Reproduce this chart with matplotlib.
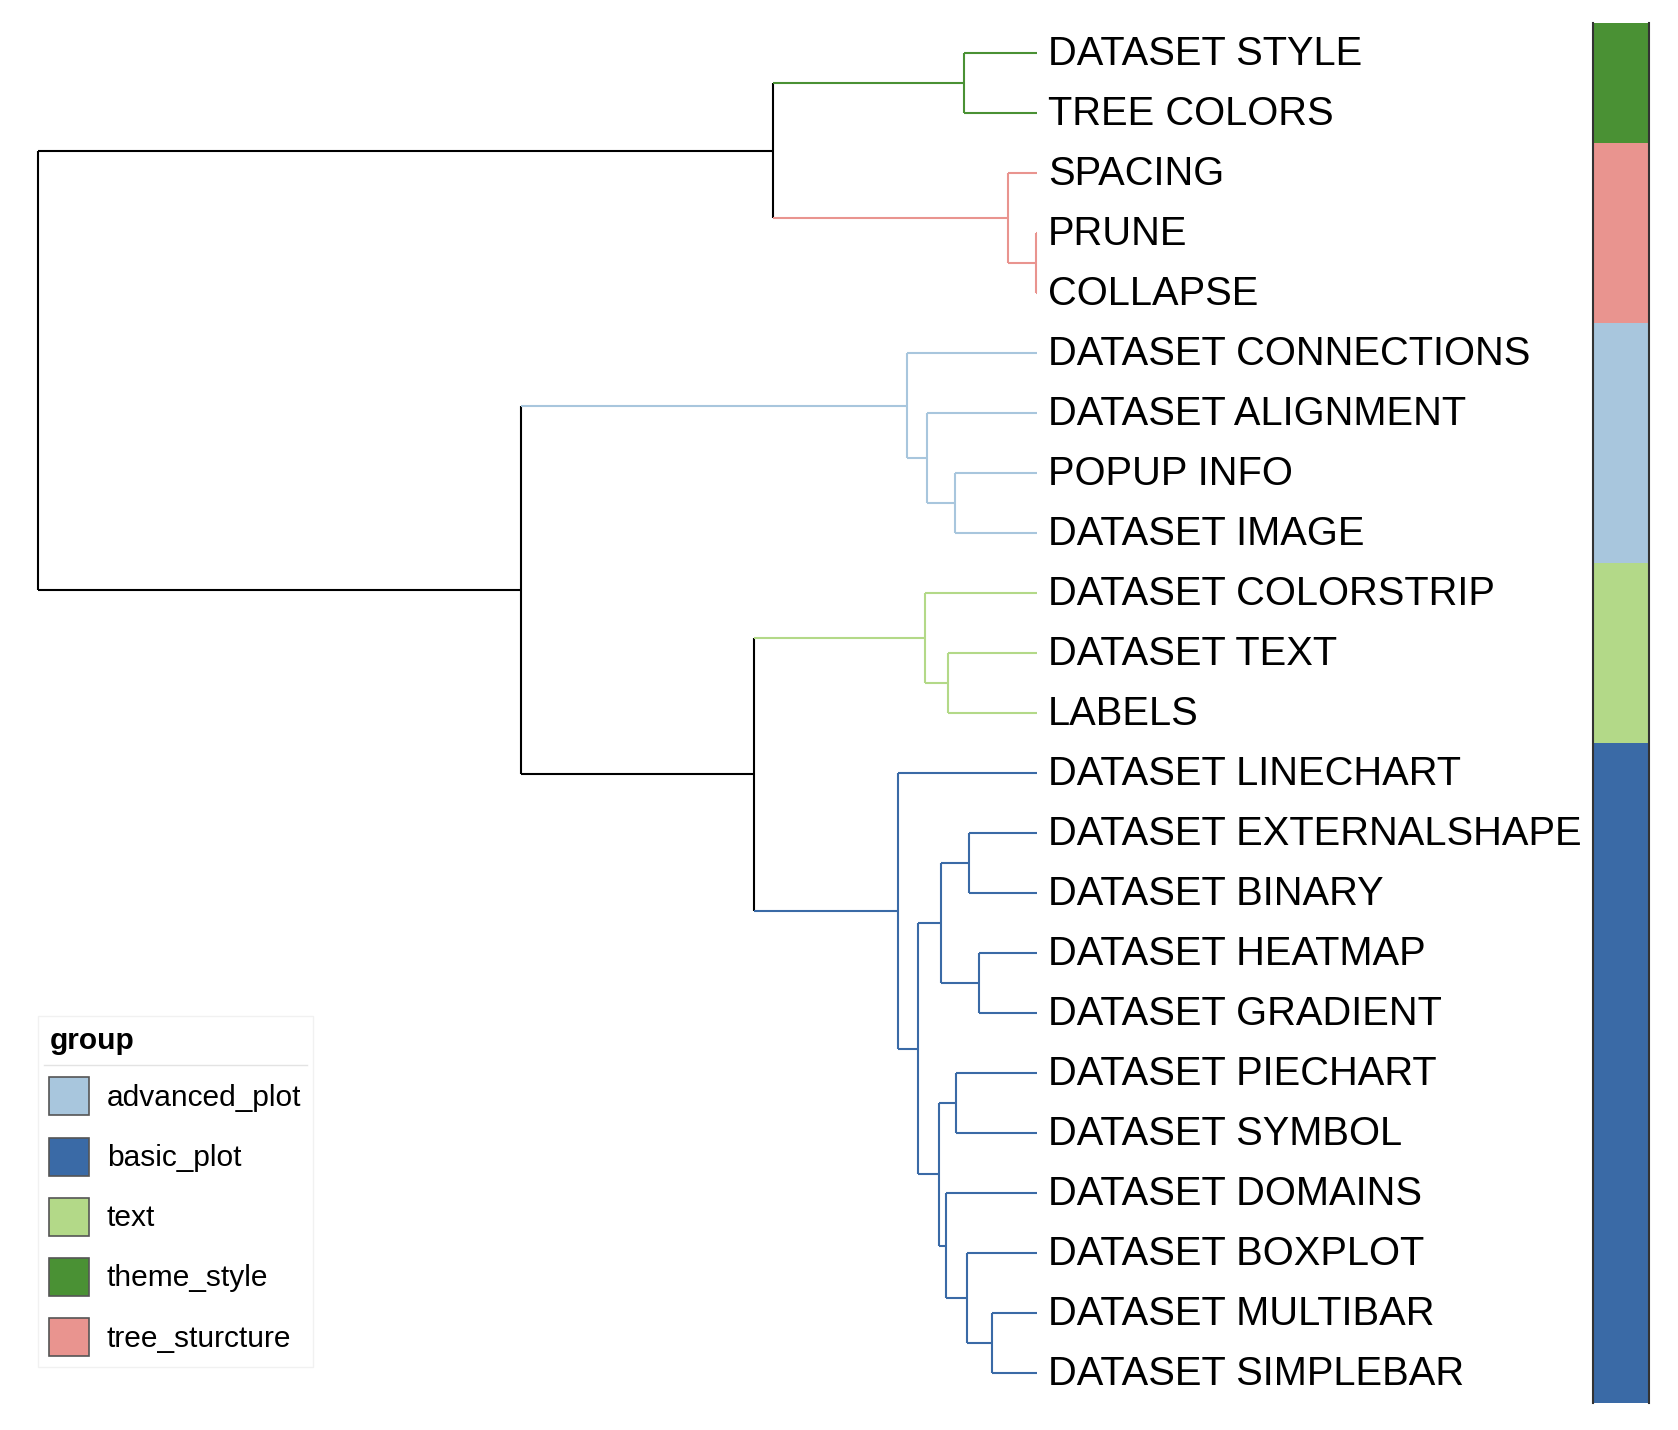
import numpy as np
import matplotlib
matplotlib.use("Agg")
import matplotlib.pyplot as plt
from matplotlib.patches import Patch
from matplotlib.lines import Line2D
from matplotlib.colors import to_rgb

plt.rcParams["font.family"] = ["Liberation Sans", "DejaVu Sans"]

W, H = 1678, 1430

# leaves, top to bottom
LEAVES = ["DATASET STYLE", "TREE COLORS", "SPACING", "PRUNE", "COLLAPSE",
          "DATASET CONNECTIONS", "DATASET ALIGNMENT", "POPUP INFO", "DATASET IMAGE",
          "DATASET COLORSTRIP", "DATASET TEXT", "LABELS",
          "DATASET LINECHART", "DATASET EXTERNALSHAPE", "DATASET BINARY",
          "DATASET HEATMAP", "DATASET GRADIENT", "DATASET PIECHART", "DATASET SYMBOL",
          "DATASET DOMAINS", "DATASET BOXPLOT", "DATASET MULTIBAR", "DATASET SIMPLEBAR"]
GROUPS = (["theme_style"] * 2 + ["tree_sturcture"] * 3 + ["advanced_plot"] * 4
          + ["text"] * 3 + ["basic_plot"] * 11)

# merges: (child a, child b, height); new node ids start at len(LEAVES)
MERGE_A = [3, 2, 0, 25, 7, 6, 5, 10, 9, 13, 15, 32, 17, 21, 20, 19, 35, 34, 12, 31, 29, 26]
MERGE_B = [4, 23, 1, 24, 8, 27, 28, 11, 30, 14, 16, 33, 18, 22, 36, 37, 38, 39, 40, 41, 42, 43]
MERGE_H = [0.001, 0.029, 0.073, 0.264, 0.082, 0.110, 0.130, 0.089, 0.112, 0.068, 0.058,
           0.096, 0.081, 0.045, 0.070, 0.091, 0.098, 0.119, 0.139, 0.283, 0.516, 1.0]

GROUP_NAMES = ["advanced_plot", "basic_plot", "text", "theme_style", "tree_sturcture"]
GROUP_COLORS = ["#A8C6DD", "#3A6AA6", "#B3D988", "#4A9134", "#E9948F"]
COLOR = dict(zip(GROUP_NAMES, GROUP_COLORS))

# ---- node positions / colours ----
n = len(LEAVES)
ypos = {i: float(i) for i in range(n)}
hgt = {i: 0.0 for i in range(n)}
grp = {i: GROUPS[i] for i in range(n)}
kids = {}
for k, (a, b, h) in enumerate(zip(MERGE_A, MERGE_B, MERGE_H)):
    node = n + k
    kids[node] = (a, b)
    ypos[node] = (ypos[a] + ypos[b]) / 2
    hgt[node] = h
    grp[node] = grp[a] if grp[a] == grp[b] else None  # mixed clade -> black

def col(node):
    return COLOR[grp[node]] if grp[node] else "black"

fig = plt.figure(figsize=(W / 100, H / 100), dpi=100)
top_px, bot_px = 23, 1403
ax = fig.add_axes([37.5 / W, 1 - bot_px / H, (1037 - 37.5) / W, (bot_px - top_px) / H])
ax.set_xlim(max(MERGE_H), 0)
ax.set_ylim(n - 0.5, -0.5)
ax.axis("off")

lw = 1.5
for node, (a, b) in kids.items():
    ax.plot([hgt[node], hgt[node]], [ypos[a], ypos[b]], color=col(node), lw=lw,
            solid_capstyle="butt", clip_on=False)
    for c in (a, b):
        ax.plot([hgt[node], hgt[c]], [ypos[c], ypos[c]], color=col(c), lw=lw,
                solid_capstyle="butt", clip_on=False)

for i, name in enumerate(LEAVES):
    ax.annotate(name, (0, i), xytext=(8, -0.8), textcoords="offset points",
                va="center", ha="left", fontsize=28.7, color="black")

# ---- group strip ----
axs = fig.add_axes([1593 / W, 1 - bot_px / H, (1649 - 1593) / W, (bot_px - top_px) / H])
strip = np.array([[to_rgb(COLOR[g])] for g in GROUPS])
axs.imshow(strip, aspect="auto", interpolation="nearest")
axs.set_xticks([]); axs.set_yticks([])
for s in ("top", "bottom"):
    axs.spines[s].set_visible(False)
for s in ("left", "right"):
    axs.spines[s].set_color("#333333")
    axs.spines[s].set_linewidth(1.5)

# ---- legend ----
handles = [Patch(facecolor=c, edgecolor="#555555", linewidth=1.2) for c in GROUP_COLORS]
leg = fig.legend(handles, GROUP_NAMES, title="group", loc="upper left",
                 bbox_to_anchor=(38 / W, 1 - 1016 / H), frameon=True, fancybox=False,
                 fontsize=21.5, title_fontproperties={"weight": "bold", "size": 21.5},
                 alignment="left", handlelength=1.32, handleheight=1.58,
                 handletextpad=0.6, labelspacing=0.74, borderpad=0.38, borderaxespad=0)
leg.get_frame().set_edgecolor("#EEEEEE")
leg.get_frame().set_linewidth(1.0)

fig.canvas.draw()
fb = leg.get_frame().get_window_extent()
tb = leg.get_title().get_window_extent()
yline = tb.y0 - 10
fig.add_artist(Line2D([fb.x0 + 6, fb.x1 - 6], [yline, yline], transform=None,
                      color="#777777", lw=1.0))

fig.savefig("out.png", dpi=100)
